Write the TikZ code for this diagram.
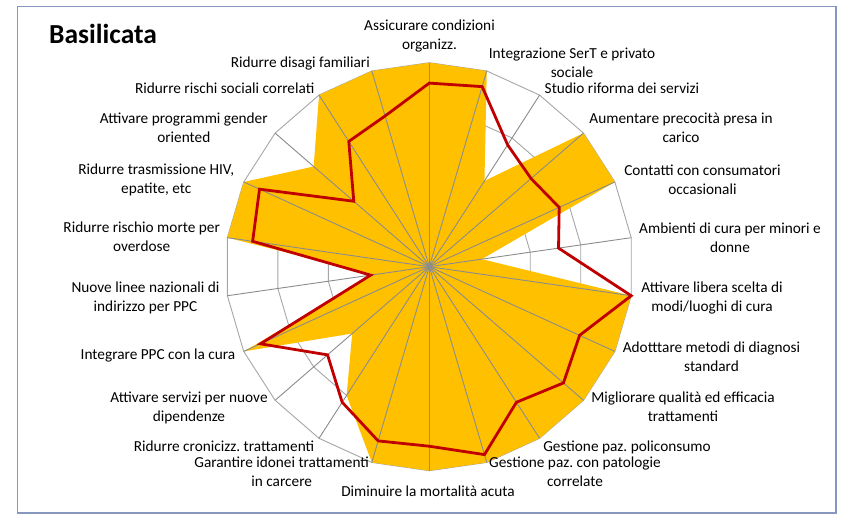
\documentclass[tikz,border=0pt]{standalone}
\usepackage{fontspec}
\setmainfont{Carlito}
\definecolor{gold}{RGB}{255,192,0}
\definecolor{serred}{RGB}{192,0,0}
\definecolor{spokegray}{RGB}{140,140,140}
\definecolor{ringgray}{RGB}{166,166,166}
\definecolor{framecol}{RGB}{136,151,191}
\frenchspacing
\begin{document}
\begin{tikzpicture}[x=1pt,y=-1pt,
  lbl/.style={font=\fontsize{15.3}{19}\selectfont, align=center, text=black, inner sep=0pt},
  titlestyle/.style={font=\fontsize{27.5}{30}\selectfont\bfseries, text=black, inner sep=0pt, anchor=base west},
  ring/.style={draw=ringgray, line width=0.9pt},
  spoke/.style={draw=spokegray, line width=0.9pt},
  area/.style={fill=gold},
  series/.style={draw=serred, line width=2.8pt, line join=miter},
  frame/.style={draw=framecol, line width=1.6pt},
]
\def\cx{429.3}
\def\cy{266.7}
\def\R{204}
\useasboundingbox (0,0) rectangle (842,516);
\fill[white] (0,0) rectangle (842,516);
\draw[frame] (17.3,6.7) rectangle (836,513);

% grid rings
\foreach \f in {0.25,0.5,0.75,1}{
  \draw[ring] ({\cx},{\cy-\f*\R}) \foreach \k in {1,...,21}{ -- ({\cx+\f*\R*sin(\k*360/22)},{\cy-\f*\R*cos(\k*360/22)}) } -- cycle;
}

% coordinates
\coordinate (c) at (\cx,\cy);
\foreach \k in {0,...,21}{
  \coordinate (o\k) at ({\cx+\R*sin(\k*360/22)},{\cy-\R*cos(\k*360/22)});
}
\foreach \v [count=\k from 0] in {1,1,0.5,1,1,0.26,1,1,1,1,1,1,1,0.75,0.5,1,0.27,1,1,0.75,1,1}{
  \coordinate (a\k) at ({\cx+\v*\R*sin(\k*360/22)},{\cy-\v*\R*cos(\k*360/22)});
}
\foreach \v [count=\k from 0] in {0.90,0.92,0.71,0.66,0.70,0.64,1.0,0.81,0.87,0.79,0.96,0.88,0.89,0.79,0.66,0.91,0.29,0.875,0.915,0.49,0.73,0.77}{
  \coordinate (r\k) at ({\cx+\v*\R*sin(\k*360/22)},{\cy-\v*\R*cos(\k*360/22)});
}

% area series
\fill[area] (a0) \foreach \k in {1,...,21}{ -- (a\k) } -- cycle;

% spokes
\foreach \k in {0,...,21}{ \draw[spoke] (c) -- (o\k); }
\fill[spokegray] (c) circle (2.2);

% line series
\draw[series] (r0) \foreach \k in {1,...,21}{ -- (r\k) } -- cycle;

% title
\node[titlestyle] (title) at (49,44) {Basilicata};

% labels
\node[lbl] (l0) at (429.5,35.8) {Assicurare condizioni\\organizz.};
\node[lbl] (l1) at (572,62.5) {Integrazione SerT e privato\\sociale};
\node[lbl] (l2) at (622,88.3) {Studio riforma dei servizi};
\node[lbl] (l3) at (681,127.5) {Aumentare precocità presa in\\carico};
\node[lbl] (l4) at (702.5,179.7) {Contatti con consumatori\\occasionali};
\node[lbl] (l5) at (730,237.5) {Ambienti di cura per minori e\\donne};
\node[lbl] (l6) at (712,298.3) {Attivare libera scelta di\\modi/luoghi di cura};
\node[lbl] (l7) at (711.5,356.8) {Adotttare metodi di diagnosi\\standard};
\node[lbl] (l8) at (683,406.8) {Migliorare qualità ed efficacia\\trattamenti};
\node[lbl] (l9) at (627,447) {Gestione paz. policonsumo};
\node[lbl] (l10) at (575,471.7) {Gestione paz. con patologie\\correlate};
\node[lbl] (l11) at (428,491.3) {Diminuire la mortalità acuta};
\node[lbl] (l12) at (281.7,471.7) {Garantire idonei trattamenti\\in carcere};
\node[lbl] (l13) at (224,446.3) {Ridurre cronicizz. trattamenti};
\node[lbl] (l14) at (189,407.5) {Attivare servizi per nuove\\dipendenze};
\node[lbl] (l15) at (158,355.7) {Integrare PPC con la cura};
\node[lbl] (l16) at (145.5,298.3) {Nuove linee nazionali di\\indirizzo per PPC};
\node[lbl] (l17) at (141.7,237.2) {Ridurre rischio morte per\\overdose};
\node[lbl] (l18) at (156.3,179.7) {Ridurre trasmissione HIV,\\epatite, etc};
\node[lbl] (l19) at (183.8,127.5) {Attivare programmi gender\\oriented};
\node[lbl] (l20) at (224.7,88.3) {Ridurre rischi sociali correlati};
\node[lbl] (l21) at (300.3,63.3) {Ridurre disagi familiari};
\end{tikzpicture}
\end{document}
